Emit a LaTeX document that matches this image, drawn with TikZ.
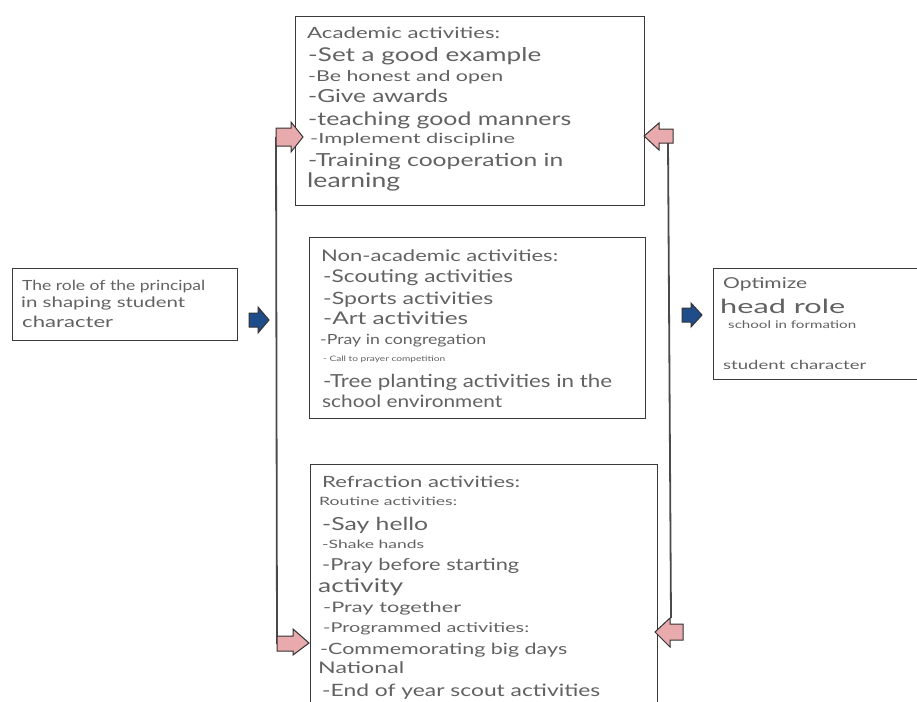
\documentclass[tikz,border=0pt]{standalone}
\usepackage{fontspec}
\usepackage{graphicx}
\setmainfont{Lato}
\definecolor{txtgray}{HTML}{626262}
\definecolor{boxline}{HTML}{3A3A3A}
\definecolor{connline}{HTML}{4A4A4A}
\definecolor{pinkfill}{HTML}{E8AAAC}
\definecolor{bluefill}{HTML}{1F4D8C}
\newcommand{\fitw}[3]{\resizebox{#1pt}{\height}{\fontsize{#2}{#2}\selectfont #3}}
\tikzset{
  txt/.style={anchor=base west, inner sep=0pt, text=txtgray},
  panel/.style={draw=boxline, line width=1.3pt, fill=white, anchor=north west, inner sep=0pt},
  conn/.style={draw=connline, line width=1.8pt},
  pinkarrow/.style={draw=black!80, line width=1pt, fill=pinkfill, line join=miter},
  bluearrow/.style={draw=black!80, line width=1pt, fill=bluefill, line join=miter}
}
\begin{document}
\begin{tikzpicture}[x=1pt,y=-1pt]
\useasboundingbox (0,0) rectangle (917,701);
\clip (0,0) rectangle (917,701);
\fill[white] (0,0) rectangle (917,701);

% arrow reference coordinates
\coordinate (la1) at (276,137);
\coordinate (la2) at (277,644);
\coordinate (ra1) at (668,143);
\coordinate (ra2) at (671,618);

% connector lines
\draw[conn] (la1) -- (la2);
\draw[conn] (ra1) -- (ra2);

% boxes
\node[panel, minimum width=225pt, minimum height=72pt] (role) at (12,268) {};
\node[panel, minimum width=349pt, minimum height=189pt] (acad) at (295,16) {};
\node[panel, minimum width=336pt, minimum height=181pt] (nonacad) at (309,237) {};
\node[panel, minimum width=347pt, minimum height=260pt] (refr) at (310,464) {};
\node[panel, minimum width=230pt, minimum height=111pt] (optim) at (713,268) {};

% pink block arrows (right-pointing on the left line)
\draw[pinkarrow, shift={(276,137)}] (0,-9) -- (15,-9) -- (15,-15) -- (27,0) -- (15,15) -- (15,9) -- (0,9) -- cycle;
\draw[pinkarrow, shift={(277,643)}] (0,-7) -- (16,-7) -- (16,-14) -- (32,0) -- (16,12) -- (16,8) -- (0,8) -- cycle;
% pink block arrows (left-pointing on the right line)
\draw[pinkarrow, shift={(644,136)}] (0,0) -- (15,-13) -- (15,-7) -- (29,-7) -- (29,7) -- (15,7) -- (15,14) -- cycle;
\draw[pinkarrow, shift={(655,632)}] (0,0) -- (15,-14) -- (15,-8) -- (28,-8) -- (28,8) -- (15,8) -- (15,15) -- cycle;

% blue block arrows
\draw[bluearrow, shift={(249,320)}] (0,-7) -- (9,-7) -- (9,-13) -- (20,0) -- (9,13) -- (9,7) -- (0,7) -- cycle;
\draw[bluearrow, shift={(682,315)}] (0,-7) -- (9,-7) -- (9,-12) -- (20,0) -- (9,12) -- (9,7) -- (0,7) -- cycle;

% left box text
\node[txt] (r1) at (22,290) {\fitw{183}{14}{The role of the principal}};
\node[txt] (r2) at (21,307) {\fitw{164}{14.5}{in shaping student}};
\node[txt] (r3) at (22,327) {\fitw{91}{15.5}{character}};

% academic
\node[txt] (a1) at (307,39) {\fitw{193}{15.5}{Academic activities:}};
\node[txt] (a2) at (308,62) {\fitw{233}{19}{-Set a good example}};
\node[txt] (a3) at (308,81) {\fitw{195}{15}{-Be honest and open}};
\node[txt] (a4) at (308,102) {\fitw{140}{18}{-Give awards}};
\node[txt] (a5) at (308,125) {\fitw{263}{18.5}{-teaching good manners}};
\node[txt] (a6) at (310,143) {\fitw{205}{14}{-Implement discipline}};
\node[txt] (a7) at (308,166) {\fitw{255}{18}{-Training cooperation in}};
\node[txt] (a8) at (307,187) {\fitw{93}{20}{learning}};

% non-academic
\node[txt] (n1) at (321,261) {\fitw{237}{16}{Non-academic activities:}};
\node[txt] (n2) at (323,282) {\fitw{190}{17.5}{-Scouting activities}};
\node[txt] (n3) at (323,304) {\fitw{170}{17}{-Sports activities}};
\node[txt] (n4) at (323,324) {\fitw{145}{17.5}{-Art activities}};
\node[txt] (n5) at (320,344) {\fitw{166}{14}{-Pray in congregation}};
\node[txt] (n6) at (323,361) {\fitw{122}{7.5}{- Call to prayer competition}};
\node[txt] (n7) at (323,387) {\fitw{289}{18}{-Tree planting activities in the}};
\node[txt] (n8) at (322,407) {\fitw{180}{17}{school environment}};

% refraction
\node[txt] (f1) at (322,487) {\fitw{198}{15.5}{Refraction activities:}};
\node[txt] (f2) at (319,505) {\fitw{138}{11.5}{Routine activities:}};
\node[txt] (f3) at (322,530) {\fitw{106}{18}{-Say hello}};
\node[txt] (f4) at (322,548) {\fitw{102}{11.5}{-Shake hands}};
\node[txt] (f5) at (322,570) {\fitw{197}{16.5}{-Pray before starting}};
\node[txt] (f6) at (318,592) {\fitw{85}{19}{activity}};
\node[txt] (f7) at (323,612) {\fitw{138}{14.5}{-Pray together}};
\node[txt] (f8) at (323,632) {\fitw{206}{13.5}{-Programmed activities:}};
\node[txt] (f9) at (320,654) {\fitw{247}{15.5}{-Commemorating big days}};
\node[txt] (f10) at (318,673) {\fitw{86}{16}{National}};
\node[txt] (f11) at (322,696) {\fitw{278}{17}{-End of year scout activities}};

% optimize box
\node[txt] (o1) at (723,288) {\fitw{84}{15}{Optimize}};
\node[txt] (o2) at (720,313) {\fitw{125}{19.5}{head role}};
\node[txt] (o3) at (728,328) {\fitw{128}{10.5}{school in formation}};
\node[txt] (o4) at (723,369) {\fitw{143}{12.5}{student character}};
\end{tikzpicture}
\end{document}
